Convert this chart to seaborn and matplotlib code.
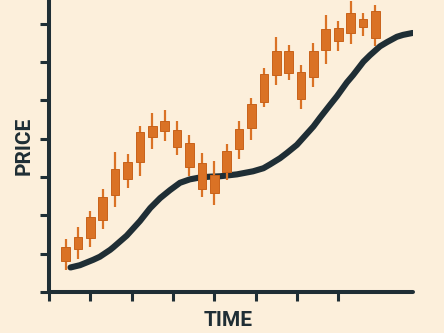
import numpy as np
import pandas as pd
import seaborn as sns
import matplotlib
matplotlib.use("Agg")
import matplotlib.pyplot as plt

# ---- data ----
candle_time = [0.40, 0.70, 1.00, 1.30, 1.60, 1.90, 2.20, 2.50, 2.80, 3.10, 3.40, 3.70, 4.00,
               4.30, 4.60, 4.90, 5.20, 5.50, 5.80, 6.10, 6.40, 6.70, 7.00, 7.30, 7.60, 7.90]
body_low = [0.81, 1.12, 1.41, 1.88, 2.53, 2.95, 3.39, 4.05, 4.20, 3.79, 3.26, 2.69, 2.58,
            3.13, 3.73, 4.28, 4.96, 5.67, 5.72, 5.04, 5.61, 6.32, 6.55, 6.76, 6.92, 6.63]
body_high = [1.17, 1.44, 1.96, 2.48, 3.21, 3.39, 4.18, 4.33, 4.46, 4.23, 3.89, 3.37, 3.05,
             3.68, 4.26, 4.91, 5.69, 6.29, 6.29, 5.74, 6.29, 6.87, 6.89, 7.28, 7.13, 7.34]
wick_low = [0.57, 0.86, 1.17, 1.64, 2.22, 2.72, 3.03, 3.73, 3.94, 3.58, 3.03, 2.48, 2.27,
            2.92, 3.47, 3.97, 4.83, 5.40, 5.54, 4.78, 5.35, 5.95, 6.29, 6.48, 6.68, 6.42]
wick_high = [1.38, 1.70, 2.11, 2.69, 3.66, 3.60, 4.33, 4.67, 4.75, 4.46, 4.10, 3.63, 3.42,
             3.86, 4.46, 5.07, 5.85, 6.66, 6.45, 5.93, 6.50, 7.23, 7.08, 7.60, 7.28, 7.49]

trend_time = [0.52, 0.75, 0.91, 1.07, 1.23, 1.48, 1.56, 1.88, 2.20, 2.45, 2.69, 2.93,
              3.17, 3.41, 3.66, 3.90, 4.14, 4.55, 4.94, 5.19, 5.35, 5.59, 5.76, 6.00,
              6.15, 6.40, 6.56, 6.80, 6.97, 7.21, 7.36, 7.61, 7.77, 8.01, 8.18, 8.42,
              8.57, 8.80]
trend_price = [0.64, 0.70, 0.77, 0.84, 0.92, 1.10, 1.17, 1.47, 1.85, 2.19, 2.45, 2.66,
               2.85, 2.94, 2.99, 3.01, 3.02, 3.07, 3.15, 3.23, 3.33, 3.49, 3.63, 3.84,
               4.02, 4.32, 4.55, 4.88, 5.11, 5.47, 5.66, 6.01, 6.18, 6.41, 6.52, 6.66,
               6.71, 6.76]

tick_values = [0, 1, 2, 3, 4, 5, 6, 7]

# ---- style ----
BG = "#FCEFDB"
DARK = "#1F2E35"
ORANGE = "#DA7225"
ORANGE_EDGE = "#C8621A"

sns.set_theme(style="white", rc={"figure.facecolor": BG, "axes.facecolor": BG})
plt.rcParams["font.family"] = ["Roboto", "DejaVu Sans"]

fig = plt.figure(figsize=(4.44, 3.33), dpi=100)
ax = fig.add_axes([49 / 444, 41 / 333, 364 / 444, 292 / 333])
ax.set_facecolor(BG)

trend = pd.DataFrame({"time": trend_time, "price": trend_price})
sns.lineplot(data=trend, x="time", y="price", ax=ax, color=DARK, linewidth=4.4,
             sort=False, solid_capstyle="round", solid_joinstyle="round", zorder=2)

ax.vlines(candle_time, wick_low, wick_high, color=ORANGE, linewidth=1.6, zorder=3)
heights = [h - l for h, l in zip(body_high, body_low)]
ax.bar(candle_time, heights, bottom=body_low, width=0.21, color=ORANGE,
       edgecolor=ORANGE_EDGE, linewidth=0.7, zorder=4)

ax.set_xlim(0, 8.81)
ax.set_ylim(0, 7.62)
ax.set_xticks(tick_values)
ax.set_yticks(tick_values)
ax.set_xticklabels([])
ax.set_yticklabels([])
ax.set_xlabel("")
ax.set_ylabel("")
ax.tick_params(axis="both", direction="out", length=6.5, width=2.2, color=DARK,
               bottom=True, left=True)

for side in ["top", "right"]:
    ax.spines[side].set_visible(False)
for side in ["left", "bottom"]:
    ax.spines[side].set_color(DARK)
    ax.spines[side].set_linewidth(2.9)
    ax.spines[side].set_capstyle("round")

fig.text(228 / 444, 1 - 320.5 / 333, "TIME", ha="center", va="center",
         fontsize=15, fontweight="bold", color=DARK)
fig.text(24 / 444, 1 - 145.5 / 333, "PRICE", ha="center", va="center", rotation=90,
         fontsize=15, fontweight="bold", color=DARK)

fig.savefig("out.png", dpi=100, facecolor=BG)
